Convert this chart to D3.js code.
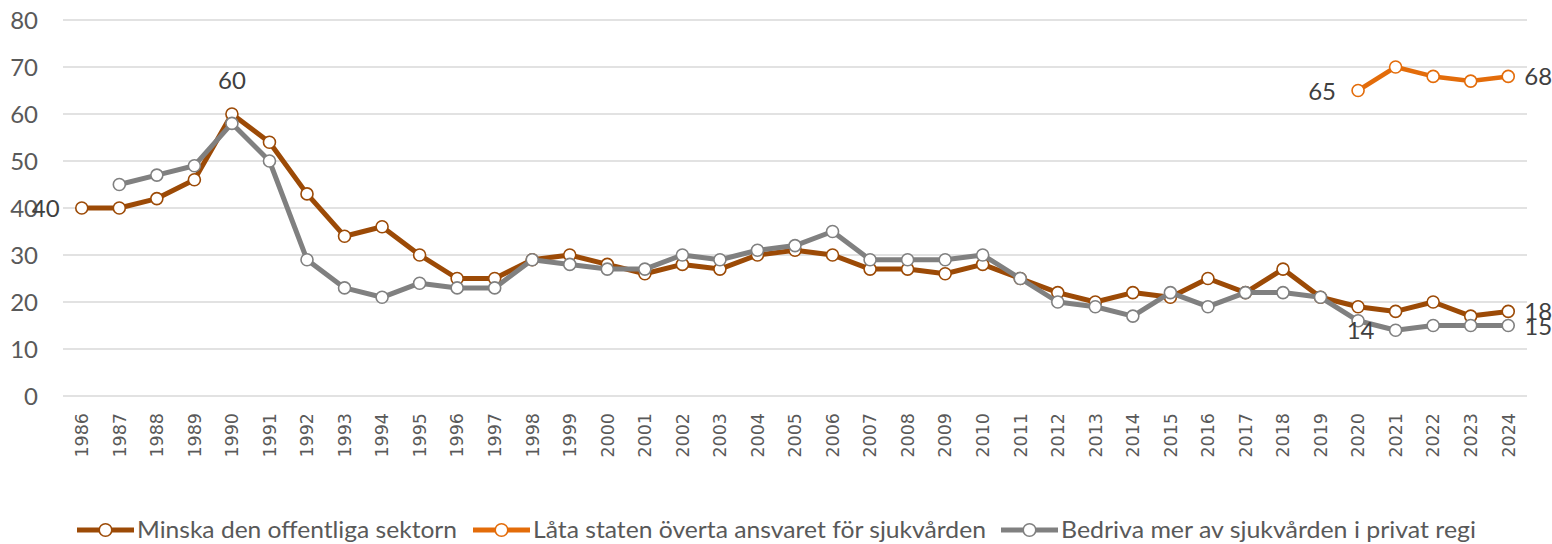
<!DOCTYPE html>
<html><head><meta charset="utf-8">
<script src="https://cdn.jsdelivr.net/npm/d3@7"></script>
<style>body{margin:0;background:#fff}svg{display:block}</style>
</head><body>
<svg id="chart" width="1552" height="544"></svg>
<script>
const years = d3.range(1986, 2025).map(String);
const minska = [40,40,42,46,60,54,43,34,36,30,25,25,29,30,28,26,28,27,30,31,30,27,27,26,28,25,22,20,22,21,25,22,27,21,19,18,20,17,18];
const bedriva = [null,45,47,49,58,50,29,23,21,24,23,23,29,28,27,27,30,29,31,32,35,29,29,29,30,25,20,19,17,22,19,22,22,21,16,14,15,15,15];
const lata = [null,null,null,null,null,null,null,null,null,null,null,null,null,null,null,null,null,null,null,null,null,null,null,null,null,null,null,null,null,null,null,null,null,null,65,70,68,67,68];
const yTicks = [0,10,20,30,40,50,60,70,80];
const seriesNames = ["Minska den offentliga sektorn","Låta staten överta ansvaret för sjukvården","Bedriva mer av sjukvården i privat regi"];
const colors = ["#9C4A06","#E36C0A","#808080"];

const svg = d3.select("#chart");
const x = d3.scalePoint().domain(years).range([63,1527]).padding(0.5);
const y = d3.scaleLinear().domain([0,80]).range([396,20]);
const labelFont = "Lato, 'Open Sans', sans-serif";

// gridlines
svg.append("g").selectAll("line").data(yTicks).join("line")
  .attr("x1",63).attr("x2",1527).attr("y1",d=>y(d)).attr("y2",d=>y(d))
  .attr("stroke","#d9d9d9").attr("stroke-width",1.5);

// y labels
svg.append("g").selectAll("text").data(yTicks).join("text")
  .attr("x",38).attr("y",d=>y(d)).attr("dy","0.36em").attr("text-anchor","end")
  .attr("font-family",labelFont).attr("font-size",24).attr("fill","#595959")
  .text(d=>d);

// x labels
svg.append("g").selectAll("text").data(years).join("text")
  .attr("transform",d=>`translate(${x(d)},413) rotate(-90)`)
  .attr("dy","0.36em").attr("text-anchor","end")
  .attr("font-family","DejaVu Sans, sans-serif").attr("font-size",17.5).attr("fill","#595959")
  .text(d=>d);

const all = [minska, lata, bedriva];
const line = d3.line().defined(d=>d.v!=null).x(d=>x(d.yr)).y(d=>y(d.v));
function pts(arr){return arr.map((v,i)=>({yr:years[i],v}));}

[0,1,2].forEach(si=>{
  const data = pts(all[si]);
  const g = svg.append("g");
  g.append("path").datum(data).attr("d",line).attr("fill","none")
    .attr("stroke",colors[si]).attr("stroke-width",si===1?4.5:5).attr("stroke-linejoin","round");
  g.selectAll("circle").data(data.filter(d=>d.v!=null)).join("circle")
    .attr("cx",d=>x(d.yr)).attr("cy",d=>y(d.v)).attr("r",6)
    .attr("fill","#fff").attr("stroke",colors[si]).attr("stroke-width",1.6);
});

// data labels
const lbl = [
  {s:minska, i:0, dx:-36, dy:0, anchor:"middle"},
  {s:minska, i:4, dx:0, dy:-34, anchor:"middle"},
  {s:lata, i:34, dx:-36, dy:1, anchor:"middle"},
  {s:lata, i:38, dx:16, dy:0, anchor:"start"},
  {s:minska, i:38, dx:16, dy:0, anchor:"start"},
  {s:bedriva, i:38, dx:16, dy:1, anchor:"start"},
  {s:bedriva, i:35, dx:-35, dy:0, anchor:"middle"}
];
svg.append("g").selectAll("text").data(lbl).join("text")
  .attr("x",d=>x(years[d.i])+d.dx).attr("y",d=>y(d.s[d.i])+d.dy).attr("dy","0.36em")
  .attr("text-anchor",d=>d.anchor)
  .attr("font-family",labelFont).attr("font-size",24).attr("fill","#404040")
  .text(d=>d.s[d.i]);

// legend
const legX = [77,473,1001];
const legW = [320,453,415];
const ly = 530;
const lg = svg.append("g");
[0,1,2].forEach(si=>{
  const gx = legX[si];
  lg.append("line").attr("x1",gx).attr("x2",gx+57).attr("y1",ly).attr("y2",ly)
    .attr("stroke",colors[si]).attr("stroke-width",5);
  lg.append("circle").attr("cx",gx+28.5).attr("cy",ly).attr("r",6.3)
    .attr("fill","#fff").attr("stroke",colors[si]).attr("stroke-width",1.6);
  lg.append("text").attr("x",gx+60).attr("y",ly).attr("dy","0.34em")
    .attr("font-family",labelFont).attr("font-size",24).attr("fill","#595959")
    .attr("textLength",legW[si]).attr("lengthAdjust","spacingAndGlyphs")
    .text(seriesNames[si]);
});
</script>
</body></html>
